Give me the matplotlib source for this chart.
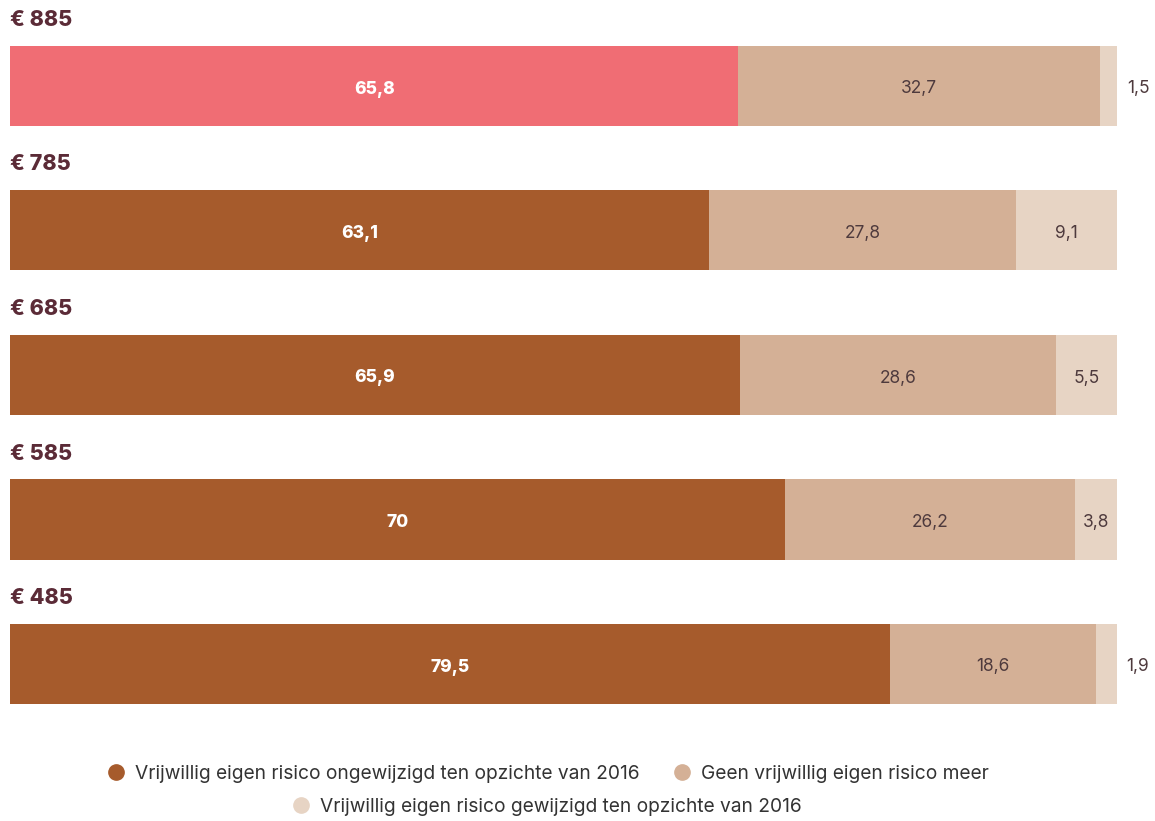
import matplotlib
matplotlib.use("Agg")
import matplotlib.pyplot as plt
from matplotlib.lines import Line2D

# data (top to bottom)
categories = ["€ 885", "€ 785", "€ 685", "€ 585", "€ 485"]
unchanged = [65.8, 63.1, 65.9, 70, 79.5]
no_more = [32.7, 27.8, 28.6, 26.2, 18.6]
changed = [1.5, 9.1, 5.5, 3.8, 1.9]
legend_labels = ["Vrijwillig eigen risico ongewijzigd ten opzichte van 2016",
                 "Geen vrijwillig eigen risico meer",
                 "Vrijwillig eigen risico gewijzigd ten opzichte van 2016"]

# colours
brown = "#A65B2C"
pink = "#F06D74"
tan = "#D4B096"
light = "#E7D4C4"
title_col = "#5B2B37"
text_col = "#4E3A3D"

plt.rcParams['font.family'] = ['Inter', 'DejaVu Sans']

fig = plt.figure(figsize=(11.55, 8.21), dpi=100)
ax = fig.add_axes([10 / 1155, 0, 1107 / 1155, 1])
unit = 144.5  # px between bars
ax.set_ylim((821 - 86) / unit, -86 / unit)
ax.set_xlim(0, 100)
ax.axis("off")

h = 80 / unit
dy = 3 / unit  # small downward nudge for in-bar labels
for i, cat in enumerate(categories):
    c1 = pink if i == 0 else brown
    ax.barh(i, unchanged[i], height=h, color=c1)
    ax.barh(i, no_more[i], left=unchanged[i], height=h, color=tan)
    ax.barh(i, changed[i], left=unchanged[i] + no_more[i], height=h, color=light)

    ax.text(0, i - 66 / unit, cat, ha="left", va="center", fontsize=15.5,
            fontweight="heavy", color=title_col)
    ax.text(unchanged[i] / 2, i + dy, f"{unchanged[i]:g}".replace(".", ","),
            ha="center", va="center", fontsize=12.5, fontweight="heavy", color="white")
    ax.text(unchanged[i] + no_more[i] / 2, i + dy, f"{no_more[i]:g}".replace(".", ","),
            ha="center", va="center", fontsize=12.5, color=text_col)
    lab = f"{changed[i]:g}".replace(".", ",")
    if changed[i] < 3:
        ax.text(101.9, i + dy, lab, ha="center", va="center", fontsize=12.5, color=text_col)
    else:
        ax.text(100 - changed[i] / 2, i + dy, lab, ha="center", va="center",
                fontsize=12.5, color=text_col)

def dot(c):
    return Line2D([], [], marker="o", linestyle="", markersize=11,
                  markerfacecolor=c, markeredgecolor=c)

fig.legend([dot(brown), dot(tan)], legend_labels[:2], ncol=2,
           loc="center", bbox_to_anchor=(0.47, 1 - 774 / 821), frameon=False,
           fontsize=13.8, handletextpad=0.0, columnspacing=1.2,
           labelcolor="#333333")
fig.legend([dot(light)], legend_labels[2:], loc="center",
           bbox_to_anchor=(0.469, 1 - 807 / 821), frameon=False, fontsize=13.8,
           handletextpad=0.0, labelcolor="#333333")

fig.savefig("out.png", dpi=100)
